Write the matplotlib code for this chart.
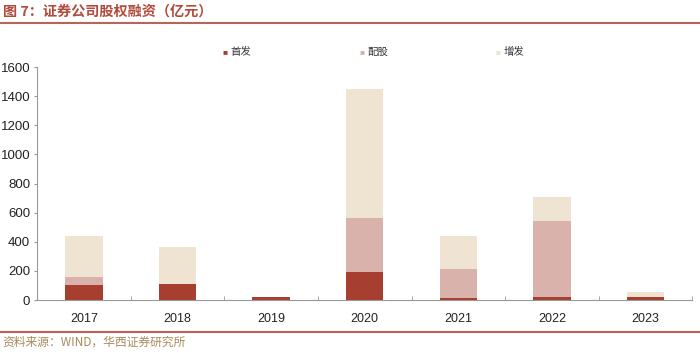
import numpy as np
import matplotlib
matplotlib.use("Agg")
import matplotlib.pyplot as plt
from matplotlib.lines import Line2D

plt.rcParams['font.family'] = ['Liberation Sans', 'Noto Sans CJK SC', 'DejaVu Sans']

years = ["2017", "2018", "2019", "2020", "2021", "2022", "2023"]
ipo = [105, 108, 18, 195, 14, 18, 23]          # 首发
rights = [50, 0, 0, 370, 199, 522, 0]          # 配股
placement = [285, 258, 0, 887, 227, 165, 34]   # 增发
series_names = ["首发", "配股", "增发"]

C_IPO = "#a63f30"
C_RIGHTS = "#d9b2ab"
C_PLACE = "#efe3d1"
C_TITLE = "#b24a3c"

fig = plt.figure(figsize=(7.0, 3.53), dpi=100)
ax = fig.add_axes([0.053, 0.150, 0.936, 0.660])

x = np.arange(len(years))
w = 0.40
b1 = np.array(ipo)
b2 = b1 + np.array(rights)
ax.bar(x, ipo, w, color=C_IPO, zorder=2)
ax.bar(x, rights, w, bottom=b1, color=C_RIGHTS, zorder=2)
ax.bar(x, placement, w, bottom=b2, color=C_PLACE, zorder=2)

ax.set_xlim(-0.5, len(years) - 0.5)
ax.set_ylim(0, 1600)
ax.set_yticks(range(0, 1601, 200))
ax.set_xticks(x)
ax.set_xticklabels(years)
ax.set_xticks(np.arange(-0.5, len(years), 1.0), minor=True)
ax.tick_params(axis="x", which="major", length=0, pad=9, labelsize=9, colors="#222222")
ax.tick_params(axis="x", which="minor", length=3, direction="in", color="#999999")
ax.tick_params(axis="y", length=2, labelsize=9.5, colors="#222222", pad=3, color="#999999")
for s in ("top", "right"):
    ax.spines[s].set_visible(False)
for s in ("left", "bottom"):
    ax.spines[s].set_color("#999999")
    ax.spines[s].set_linewidth(0.8)

# legend
cols = [C_IPO, C_RIGHTS, C_PLACE]
lx = [0.318, 0.514, 0.708]
for name, c, xx in zip(series_names, cols, lx):
    fig.text(xx, 0.852, "■", color=c, fontsize=6, ha="left", va="center")
    fig.text(xx + 0.011, 0.852, name, color="#333333", fontsize=7.5, ha="left", va="center",
             family=['Noto Sans CJK SC', 'DejaVu Sans'])

# title and rules
fig.text(0.004, 0.968, "图 7：证券公司股权融资（亿元）", color=C_TITLE, fontsize=10.2,
         fontweight="bold", ha="left", va="center", family=['Noto Sans CJK SC', 'DejaVu Sans'])
fig.add_artist(Line2D([0, 1], [0.934, 0.934], color="#b8645a", lw=1.5))
fig.add_artist(Line2D([0, 1], [0.060, 0.060], color="#b8645a", lw=1.5))
fig.text(0.004, 0.030, "资料来源：WIND，华西证券研究所", color="#a88a5c", fontsize=8.5,
         ha="left", va="center", family=['Noto Sans CJK SC', 'DejaVu Sans'])

fig.savefig("out.png", dpi=100)
